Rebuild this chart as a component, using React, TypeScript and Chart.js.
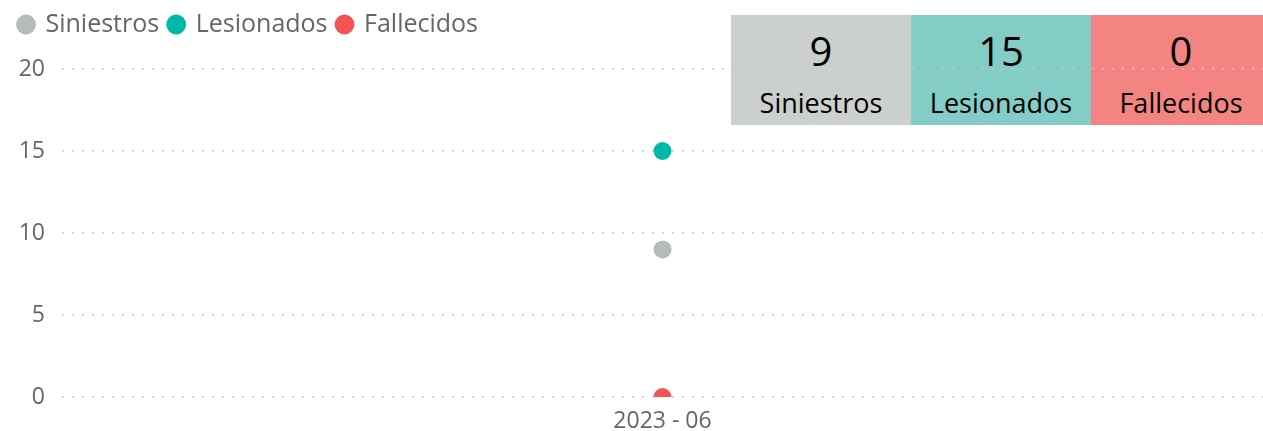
import React, { useEffect, useRef } from "react";
import { Chart, registerables } from "chart.js";

Chart.register(...registerables);

const categories = ["2023 - 06"];
const siniestros = [9];
const lesionados = [15];
const fallecidos = [0];
const yTicks = [0, 5, 10, 15, 20];

const summaryLabels = ["Siniestros", "Lesionados", "Fallecidos"];
const summaryValues = [9, 15, 0];
const summaryColors = ["#cbd0cf", "#84ccc6", "#f48482"];

const FONT = "'Open Sans', 'Noto Sans', sans-serif";

const legendMargin = {
  id: "legendMargin",
  beforeInit(chart: any) {
    const fit = chart.legend.fit;
    chart.legend.fit = function () {
      fit.bind(chart.legend)();
      this.height += 22;
    };
  },
};

export default function App() {
  const ref = useRef<HTMLCanvasElement | null>(null);

  useEffect(() => {
    if (!ref.current) return;
    const ds = (label: string, data: number[], color: string) => ({
      label,
      data,
      borderColor: color,
      backgroundColor: color,
      pointRadius: 9,
      pointHoverRadius: 9,
      pointBorderWidth: 0,
      showLine: false,
    });
    const chart = new Chart(ref.current, {
      type: "line",
      data: {
        labels: categories,
        datasets: [
          ds("Siniestros", siniestros, "#b4bcb9"),
          ds("Lesionados", lesionados, "#00b8a9"),
          ds("Fallecidos", fallecidos, "#f05454"),
        ],
      },
      plugins: [legendMargin],
      options: {
        animation: false,
        responsive: true,
        maintainAspectRatio: false,
        layout: { autoPadding: false, padding: { left: 9, right: 0, top: 2, bottom: 0 } },
        plugins: {
          tooltip: { enabled: false },
          legend: {
            position: "top",
            align: "start",
            labels: {
              usePointStyle: true,
              pointStyle: "circle",
              boxWidth: 14,
              boxHeight: 14,
              padding: 10,
              color: "#666",
              font: { family: FONT, size: 25 },
            },
          },
        },
        scales: {
          x: {
            offset: true,
            grid: { display: false, drawTicks: false },
            border: { display: false },
            afterFit: (axis: any) => {
              axis.height = 34;
            },
            ticks: { color: "#666", font: { family: FONT, size: 23 }, padding: 11 },
          },
          y: {
            min: 0,
            max: 20,
            afterBuildTicks: (axis: any) => {
              axis.ticks = yTicks.map((v) => ({ value: v }));
            },
            afterFit: (axis: any) => {
              axis.width = 53;
            },
            grid: { color: "#c8c8c8", lineWidth: 1.5, drawTicks: false },
            border: { display: false, dash: [2, 8] },
            ticks: { color: "#666", font: { family: FONT, size: 23 }, padding: 17 },
          },
        },
      },
    });
    return () => chart.destroy();
  }, []);

  return (
    <div style={{ position: "absolute", left: 0, top: 0, width: 1263, height: 431, overflow: "hidden", background: "#fff" }}>
      <div style={{ position: "absolute", left: 731, top: 15, display: "flex" }}>
        {summaryLabels.map((l, i) => (
          <div
            key={l}
            style={{
              width: 180,
              height: 110,
              background: summaryColors[i],
              color: "#000",
              fontFamily: FONT,
              textAlign: "center",
              position: "relative",
            }}
          >
            <div style={{ position: "absolute", left: 0, right: 0, top: 13, fontSize: 40, lineHeight: "46px" }}>{summaryValues[i]}</div>
            <div style={{ position: "absolute", left: 0, right: 0, top: 72, fontSize: 27, lineHeight: "32px" }}>{l}</div>
          </div>
        ))}
      </div>
      <div style={{ position: "absolute", left: 0, top: 0, width: 1263, height: 431 }}>
        <canvas ref={ref} />
      </div>
    </div>
  );
}
